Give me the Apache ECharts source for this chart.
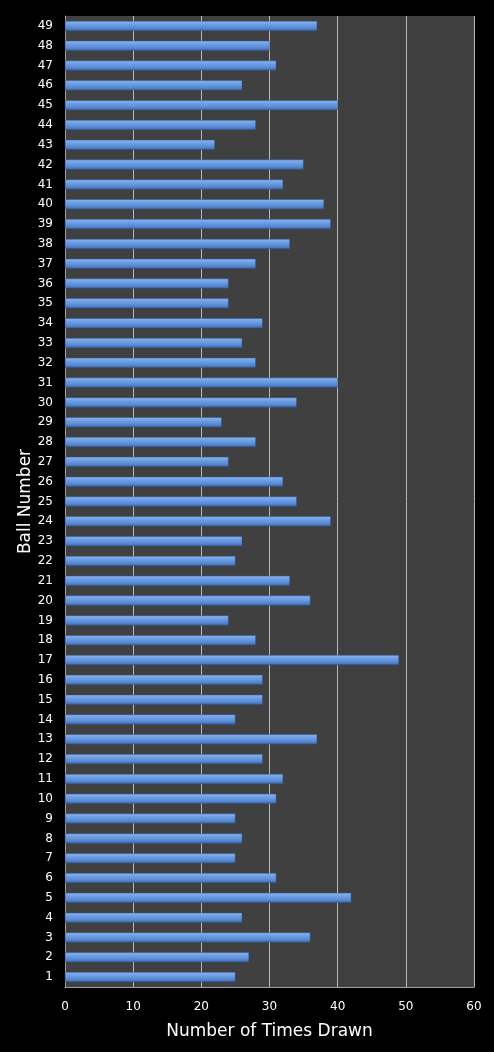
<!DOCTYPE html>
<html><head><meta charset="utf-8">
<script src="https://cdn.jsdelivr.net/npm/echarts@6/dist/echarts.min.js"></script>
<style>html,body{margin:0;padding:0;background:#000;}#c{width:494px;height:1052px;}</style>
</head><body><div id="c"></div>
<script>
const ballNumbers = ['1','2','3','4','5','6','7','8','9','10','11','12','13','14','15','16','17','18','19','20','21','22','23','24','25','26','27','28','29','30','31','32','33','34','35','36','37','38','39','40','41','42','43','44','45','46','47','48','49'];
const timesDrawn = [25,27,36,26,42,31,25,26,25,31,32,29,37,25,29,29,49,28,24,36,33,25,26,39,34,32,24,28,23,34,40,28,26,29,24,24,28,33,39,38,32,35,22,28,40,26,31,30,37];
const xTicks = [0,10,20,30,40,50,60];

const chart = echarts.init(document.getElementById('c'));
chart.setOption({
  backgroundColor: '#000',
  animation: false,
  grid: { left: 65, right: 20, top: 16, bottom: 65, show: true, backgroundColor: '#404040', borderWidth: 0 },
  xAxis: {
    type: 'value', min: xTicks[0], max: xTicks[xTicks.length-1], interval: 10,
    name: 'Number of Times Drawn', nameLocation: 'middle', nameGap: 36,
    nameTextStyle: { color: '#fff', fontSize: 17, fontFamily: 'DejaVu Sans' },
    axisLine: { show: true, lineStyle: { color: '#a0a0a0', width: 1 } },
    axisTick: { show: false },
    axisLabel: { color: '#fff', fontSize: 12, fontFamily: 'DejaVu Sans', margin: 14 },
    splitLine: { show: true, lineStyle: { color: '#b8b8b8', width: 1 } }
  },
  yAxis: {
    type: 'category', data: ballNumbers,
    name: 'Ball Number', nameLocation: 'middle', nameGap: 31, nameRotate: 90,
    nameMoveOverlap: false,
    nameTextStyle: { color: '#fff', fontSize: 17, fontFamily: 'DejaVu Sans' },
    axisLine: { show: true, lineStyle: { color: '#a0a0a0', width: 1 } },
    axisTick: { show: false },
    axisLabel: { color: '#fff', fontSize: 12, fontFamily: 'DejaVu Sans', interval: 0, margin: 12 },
    splitLine: { show: false }
  },
  series: [{
    type: 'bar', data: timesDrawn, barWidth: 10,
    itemStyle: {
      color: new echarts.graphic.LinearGradient(0, 0, 0, 1, [
        { offset: 0, color: '#8ab4ef' },
        { offset: 0.35, color: '#6e9fe4' },
        { offset: 0.7, color: '#5a8ad2' },
        { offset: 1, color: '#3a68ae' }
      ]),
      borderColor: '#2d5490', borderWidth: 0.5
    }
  }]
});
</script></body></html>
